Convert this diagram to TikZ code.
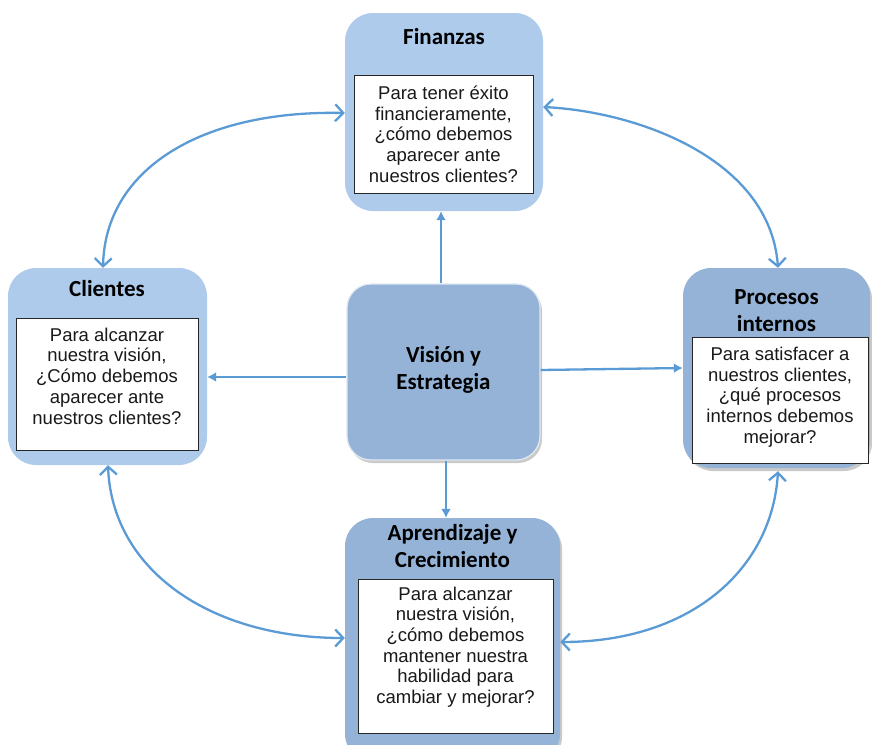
\documentclass[tikz,border=0pt]{standalone}
\usepackage{fontspec}
\setmainfont{Liberation Sans}
\newfontfamily\headfont{Carlito}
\usetikzlibrary{arrows.meta,shadows}

\definecolor{paleblue}{RGB}{174,203,235}
\definecolor{steelpanel}{RGB}{149,179,215}
\definecolor{linkblue}{RGB}{91,155,213}

\tikzset{
  panel/.style={draw=none, rounded corners=28pt, inner sep=0pt},
  lightpanel/.style={panel, fill=paleblue},
  darkpanel/.style={panel, fill=steelpanel,
    drop shadow={shadow xshift=2pt, shadow yshift=-3pt, opacity=0.35, fill=black!60}},
  qbox/.style={draw=black!85, line width=1pt, fill=white, inner sep=0pt},
  qtext/.style={align=center, inner sep=0pt, text=black!90,
    font=\fontsize{18.5}{20.7}\selectfont},
  headtext/.style={align=center, inner sep=0pt, text=black,
    font=\headfont\bfseries\fontsize{23}{27}\selectfont},
  oneway/.style={draw=linkblue, line width=2.3pt, -{Latex[length=9pt,width=10pt]}},
  twoway/.style={draw=linkblue, line width=2.3pt,
    {Straight Barb[length=8pt,width=17pt]}-{Straight Barb[length=8pt,width=17pt]}}
}

\begin{document}
\begin{tikzpicture}[x=1pt, y=-1pt]
  \path[use as bounding box] (0,0) rectangle (872,744);
  \clip (0,0) rectangle (872,744);

  % Finanzas
  \node[lightpanel, minimum width=198pt, minimum height=198pt] (fin) at (444,112) {};
  \node[qbox, minimum width=179pt, minimum height=118pt] (finq) at (443.5,134) {};
  \node[qtext] (fint) at (443.5,134) {Para tener éxito\\financieramente,\\¿cómo debemos\\aparecer ante\\nuestros clientes?};
  \node[headtext] (finh) at (444,37) {Finanzas};

  % Clientes
  \node[lightpanel, minimum width=199pt, minimum height=197pt] (cli) at (107.5,366.5) {};
  \node[qbox, minimum width=182pt, minimum height=132pt] (cliq) at (107,384) {};
  \node[qtext] (clit) at (107,376) {Para alcanzar\\nuestra visión,\\¿Cómo debemos\\aparecer ante\\nuestros clientes?};
  \node[headtext] (clih) at (107,289) {Clientes};

  % Visión y Estrategia
  \node[darkpanel, draw=white!70!steelpanel, line width=1.2pt, rounded corners=24pt,
        minimum width=193pt, minimum height=176pt] (vis) at (443.5,372) {};
  \node[headtext] (vist) at (443.5,370) {Visión y\\Estrategia};

  % Procesos internos
  \node[darkpanel, minimum width=187pt, minimum height=200pt] (pro) at (776.5,368) {};
  \node[qbox, minimum width=176pt, minimum height=126pt] (proq) at (780,400) {};
  \node[qtext] (prot) at (780,397) {Para satisfacer a\\nuestros clientes,\\¿qué procesos\\internos debemos\\mejorar?};
  \node[headtext] (proh) at (776.5,311) {Procesos\\internos};

  % Aprendizaje y Crecimiento
  \node[darkpanel, minimum width=215pt, minimum height=244pt] (apr) at (452.5,640) {};
  \node[qbox, minimum width=195pt, minimum height=154pt] (aprq) at (455.5,656) {};
  \node[qtext] (aprt) at (455.5,647) {Para alcanzar\\nuestra visión,\\¿cómo debemos\\mantener nuestra\\habilidad para\\cambiar y mejorar?};
  \node[headtext] (aprh) at (452.5,546) {Aprendizaje y\\Crecimiento};

  % links from the centre
  \draw[oneway] ([xshift=-2.5pt]vis.north) -- ([xshift=-3pt]fin.south);
  \draw[oneway] ([yshift=-5pt]vis.west) -- ([yshift=-10.5pt]cli.east);
  \draw[oneway] ([yshift=2pt]vis.east) -- (pro.west);
  \draw[oneway] ([xshift=2.5pt]vis.south) -- ([xshift=-6.5pt]apr.north);

  % two-way links around the ring
  \draw[twoway] ([yshift=-1pt]fin.west) .. controls (200,110) and (105,170) .. ([xshift=-4.5pt]cli.north);
  \draw[twoway] ([yshift=5pt]fin.east) .. controls (640,112) and (770,160) .. ([xshift=1.5pt]pro.north);
  \draw[twoway] ([xshift=0.5pt]cli.south) .. controls (112,570) and (210,638) .. ([yshift=2pt]apr.west);
  \draw[twoway] ([yshift=-2pt]apr.east) .. controls (690,642) and (772,570) .. ([xshift=1.5pt,yshift=-3pt]pro.south);
\end{tikzpicture}
\end{document}
